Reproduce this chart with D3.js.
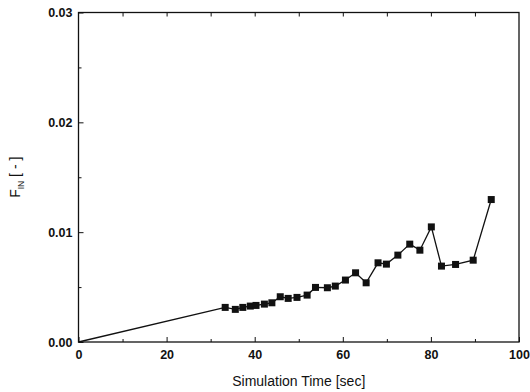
<!DOCTYPE html>
<html>
<head>
<meta charset="utf-8">
<style>
  body { margin: 0; background: #fff; }
  svg text { font-family: "Liberation Sans", Arial, sans-serif; fill: #111; }
</style>
</head>
<body>
<svg class="chart"></svg>
<script src="https://d3js.org/d3.v7.min.js"></script>
<script>
// simulation time [sec]
var times = [0, 33.3, 35.6, 37.3, 39.0, 40.3, 42.2, 43.9, 45.8, 47.6, 49.6, 51.9, 53.8,
    56.5, 58.3, 60.6, 62.9, 65.3, 68.0, 69.9, 72.5, 75.2, 77.5, 80.1, 82.4, 85.6, 89.6, 93.7];
// F_IN [-]
var fin = [0, 0.00315, 0.00297, 0.00315, 0.00327, 0.00333, 0.00345, 0.00357, 0.00412, 0.00397,
    0.00406, 0.00427, 0.00497, 0.00494, 0.00509, 0.00564, 0.00630, 0.00539, 0.00721, 0.00709,
    0.00791, 0.00891, 0.00836, 0.01048, 0.00691, 0.00706, 0.00745, 0.01297];
var xTicks = [0, 20, 40, 60, 80, 100];
var yTicks = [0, 0.01, 0.02, 0.03];

var w = 530, h = 392;
var m = {left: 78.5, right: 11, top: 12.5, bottom: 50};

var svg = d3.select('.chart').attr('width', w).attr('height', h);

var x = d3.scaleLinear().domain([0, 100]).range([m.left, w - m.right]);
var y = d3.scaleLinear().domain([0, 0.03]).range([h - m.bottom, m.top]);

var pts = times.map((t, i) => [t, fin[i]]);

// frame
svg.append('rect')
    .attr('x', x(0)).attr('y', y(0.03))
    .attr('width', x(100) - x(0)).attr('height', y(0) - y(0.03))
    .attr('fill', 'none').attr('stroke', '#111').attr('stroke-width', 1.3);

// bottom axis, ticks inward
var xAxis = svg.append('g')
    .attr('transform', 'translate(0,' + y(0) + ')')
    .call(d3.axisBottom(x).tickValues(xTicks).tickSize(-5).tickPadding(8).tickFormat(d3.format('d')));
xAxis.append('g').call(d3.axisBottom(x).tickValues(d3.range(10, 100, 20)).tickSize(-3).tickFormat(''));

// left axis
var yAxis = svg.append('g')
    .attr('transform', 'translate(' + x(0) + ',0)')
    .call(d3.axisLeft(y).tickValues(yTicks).tickSize(-5).tickPadding(6).tickFormat(d3.format('.2f')));
yAxis.append('g').call(d3.axisLeft(y).tickValues([0.005, 0.015, 0.025]).tickSize(-3).tickFormat(''));

// top axis ticks
svg.append('g')
    .attr('transform', 'translate(0,' + y(0.03) + ')')
    .call(d3.axisTop(x).tickValues(d3.range(10, 100, 10)).tickSize(-4).tickFormat(''));

svg.selectAll('.domain').attr('stroke', 'none');
svg.selectAll('.tick line').attr('stroke', '#111').attr('stroke-width', 1);
svg.selectAll('.tick text').attr('font-size', 12.5).attr('font-weight', 'bold').attr('fill', '#111')
    .attr('font-family', '"Liberation Sans", Arial, sans-serif');

// data line
svg.append('path')
    .datum(pts)
    .attr('fill', 'none').attr('stroke', '#111').attr('stroke-width', 1.3)
    .attr('d', d3.line().x(d => x(d[0])).y(d => y(d[1])));

svg.selectAll('.mark')
    .data(pts.slice(1))
    .enter()
        .append('rect')
        .attr('class', 'mark')
        .attr('x', d => x(d[0]) - 3.5)
        .attr('y', d => y(d[1]) - 3.5)
        .attr('width', 7).attr('height', 7)
        .attr('fill', '#111');

// axis titles
svg.append('text')
    .attr('x', (x(0) + x(100)) / 2).attr('y', 386)
    .attr('text-anchor', 'middle').attr('font-size', 14).attr('fill', '#111')
    .text('Simulation Time [sec]');

var yl = svg.append('text')
    .attr('transform', 'translate(20,' + ((y(0) + y(0.03)) / 2) + ') rotate(-90)')
    .attr('text-anchor', 'middle').attr('font-size', 14).attr('fill', '#111');
yl.append('tspan').text('F');
yl.append('tspan').attr('font-size', 8.5).attr('dy', 4).text('IN');
yl.append('tspan').attr('dy', -4).text(' [ - ]');
</script>
</body>
</html>
